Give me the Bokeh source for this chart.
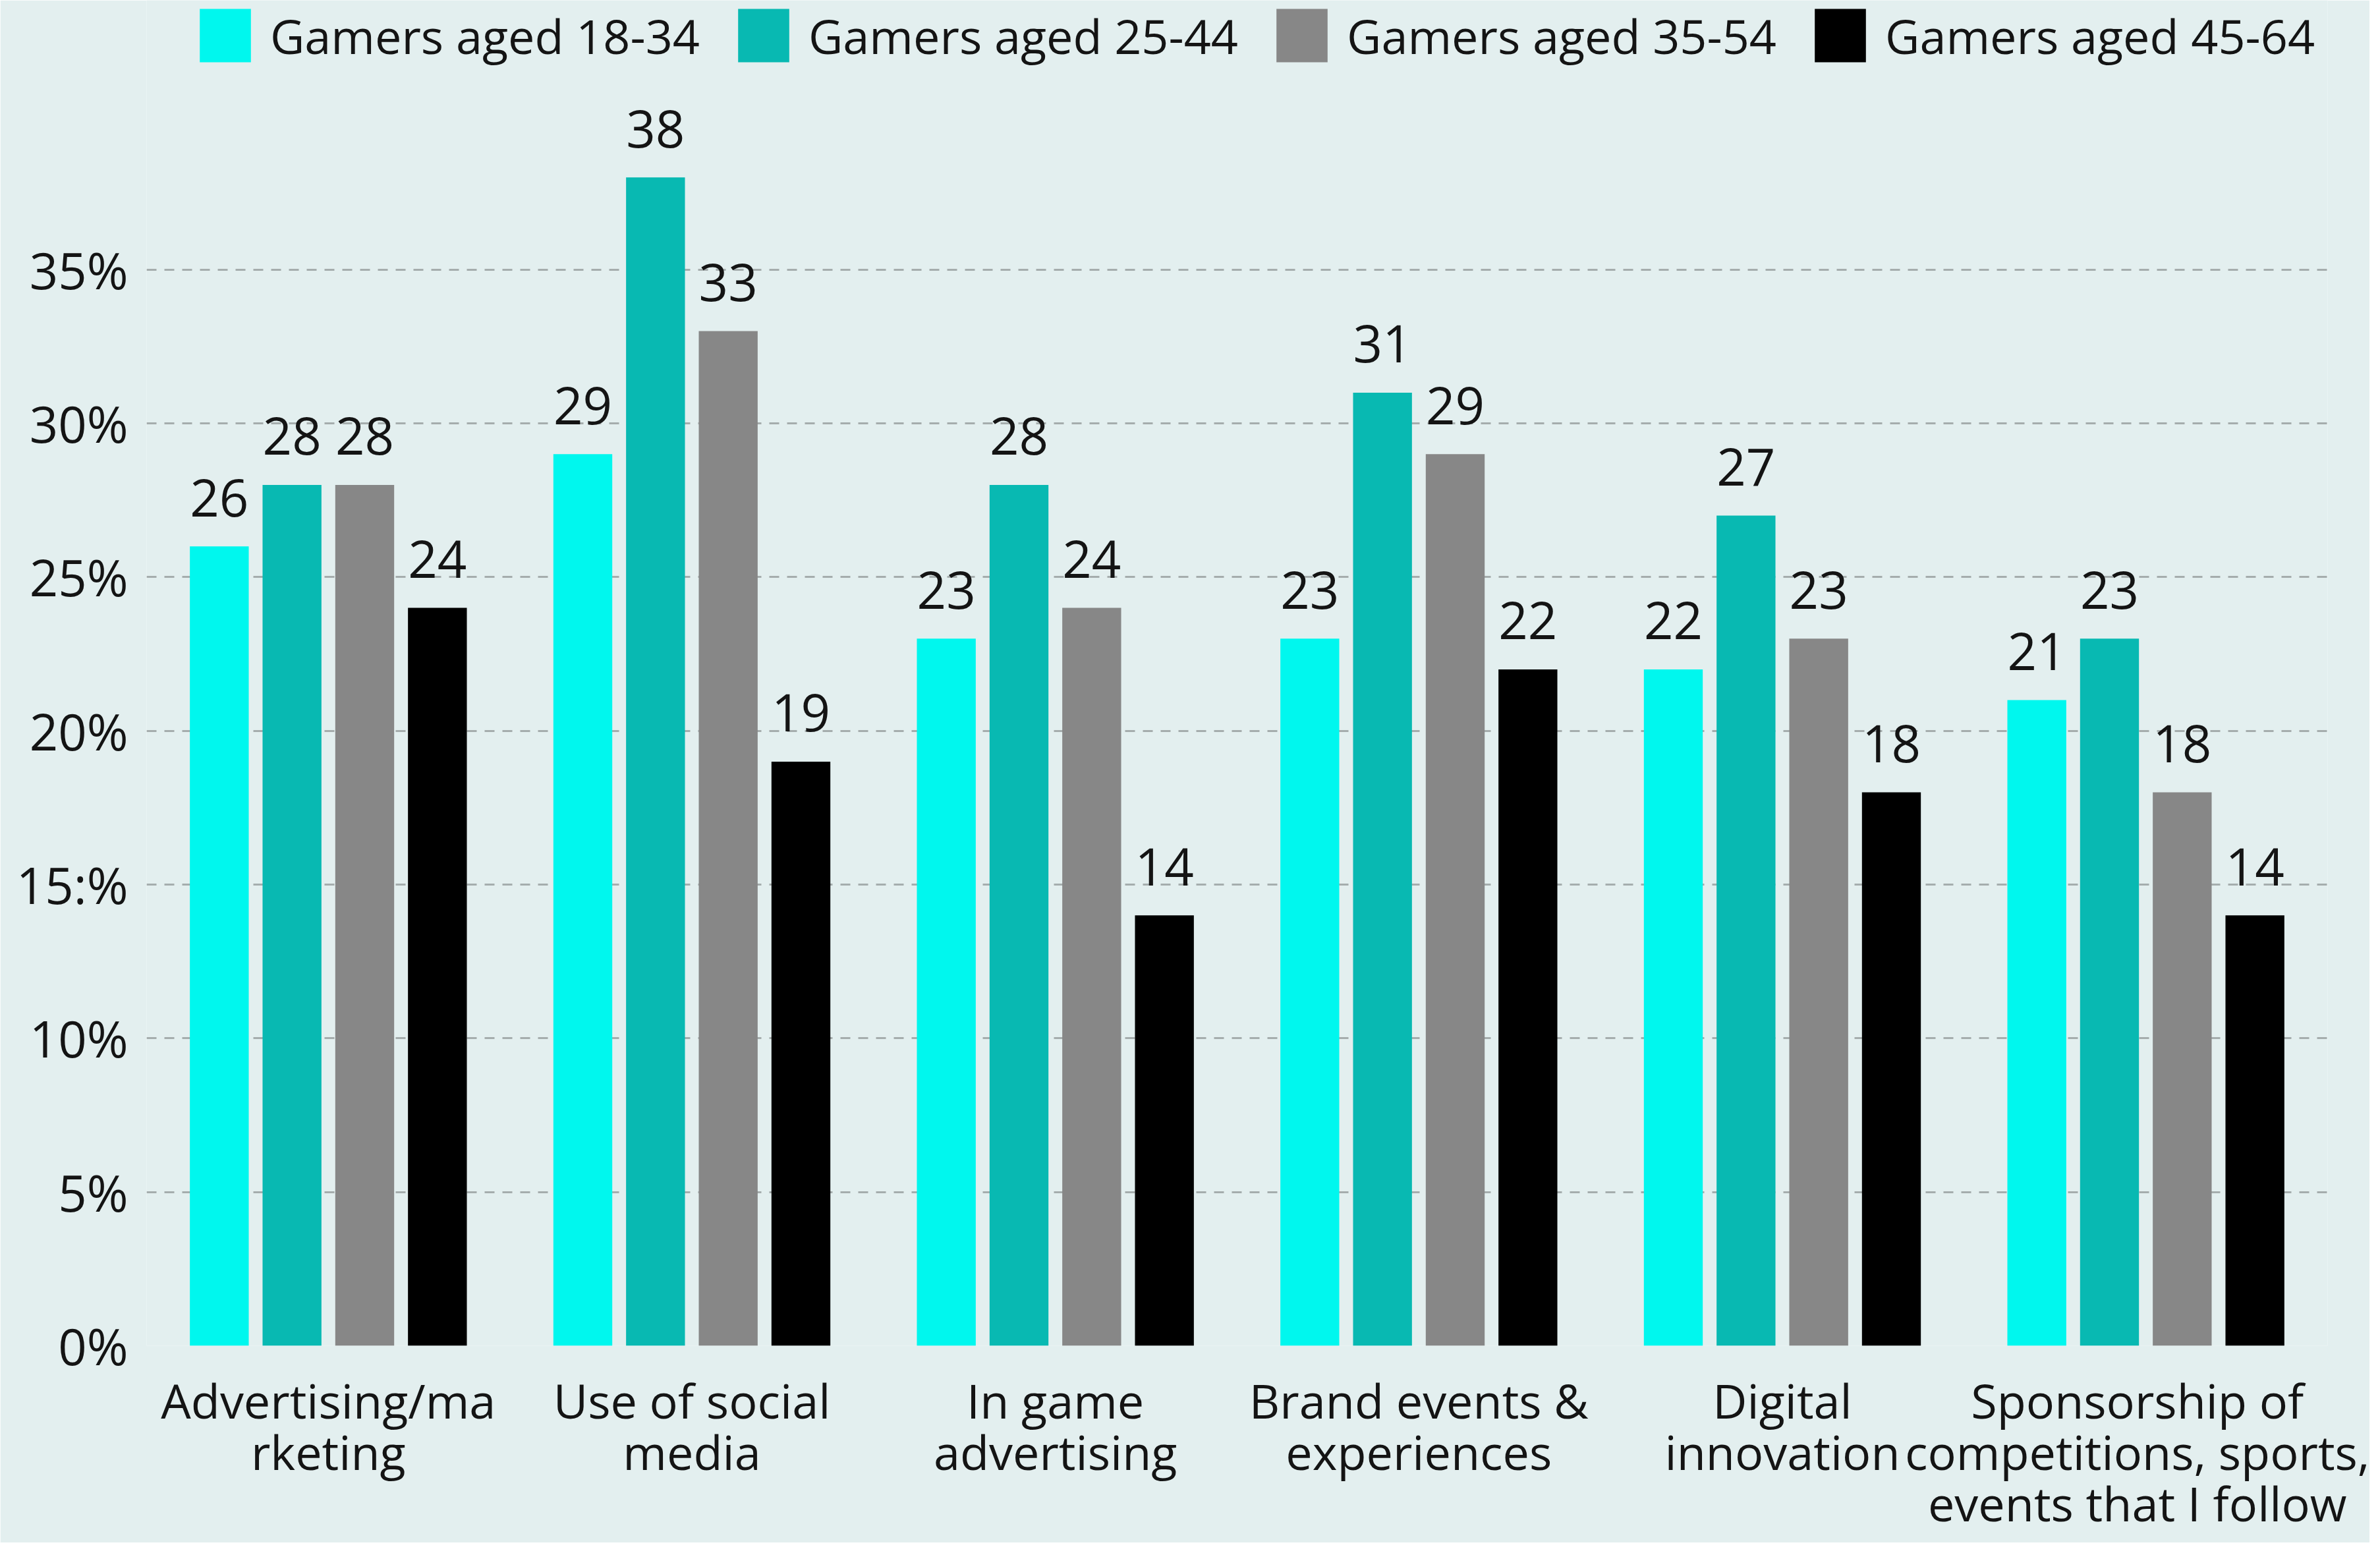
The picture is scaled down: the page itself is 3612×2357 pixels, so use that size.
from bokeh.plotting import figure
from bokeh.models import ColumnDataSource, FactorRange, Range1d, FixedTicker, Legend, LegendItem
from bokeh.transform import dodge
from bokeh.core.properties import value
from bokeh.embed import file_html
from bokeh.resources import INLINE

categories = ["Advertising/ma\nrketing", "Use of social\nmedia", "In game\nadvertising",
              "Brand events &\nexperiences", "Digital\ninnovation",
              "Sponsorship of\ncompetitions, sports,\nevents that I follow"]
series_names = ["Gamers aged 18-34", "Gamers aged 25-44", "Gamers aged 35-54", "Gamers aged 45-64"]
aged_18_34 = [26, 29, 23, 23, 22, 21]
aged_25_44 = [28, 38, 28, 31, 27, 23]
aged_35_54 = [28, 33, 24, 29, 23, 18]
aged_45_64 = [24, 19, 14, 22, 18, 14]
y_ticks = [0, 5, 10, 15, 20, 25, 30, 35]
y_tick_labels = ["0%", "5%", "10%", "15:%", "20%", "25%", "30%", "35%"]

colors = ["#00F7EE", "#08B9B2", "#878787", "#000000"]
offsets = [-0.3, -0.1, 0.1, 0.3]
series = [aged_18_34, aged_25_44, aged_35_54, aged_45_64]

FONT = "Open Sans"
TXT = "#141414"
BG = "#e3efef"

p = figure(x_range=FactorRange(*categories, range_padding=0),
           y_range=Range1d(0, 43.76),
           width=3596, height=2341, output_backend="svg", toolbar_location=None,
           min_border_left=222, min_border_right=64, min_border_top=0, min_border_bottom=299)
p.background_fill_color = BG
p.border_fill_color = BG
p.outline_line_color = None

items = []
for name, vals, col, off in zip(series_names, series, colors, offsets):
    src = ColumnDataSource(dict(cat=categories, val=vals, lab=[str(v) for v in vals]))
    r = p.vbar(x=dodge("cat", off, range=p.x_range), top="val", width=0.162, source=src,
               fill_color=col, line_color=None)
    p.text(x=dodge("cat", off, range=p.x_range), y="val", text="lab", source=src,
           text_align="center", text_baseline="alphabetic", y_offset=-74,
           text_font=value(FONT), text_font_size="78px", text_color=TXT)
    items.append(LegendItem(label=name, renderers=[r]))

legend = Legend(items=items, orientation="horizontal", location=(71, 1938),
                glyph_width=97, glyph_height=101, label_standoff=20, spacing=48,
                padding=0, margin=0, border_line_color=None, background_fill_alpha=0,
                label_text_font=FONT, label_text_font_size="72px", label_text_color=TXT)
p.add_layout(legend, "center")

# y axis
p.yaxis.ticker = FixedTicker(ticks=y_ticks)
p.yaxis.major_label_overrides = {t: l for t, l in zip(y_ticks, y_tick_labels)}
p.yaxis.axis_line_color = None
p.yaxis.major_tick_line_color = None
p.yaxis.minor_tick_line_color = None
p.yaxis.major_tick_out = 0
p.yaxis.major_tick_in = 0
p.yaxis.major_label_standoff = 28
p.yaxis.major_label_text_font = FONT
p.yaxis.major_label_text_font_size = "76px"
p.yaxis.major_label_text_color = TXT

# x axis
p.xaxis.axis_line_color = None
p.xaxis.major_tick_line_color = None
p.xaxis.major_tick_out = 0
p.xaxis.major_tick_in = 0
p.xaxis.major_label_standoff = 33
p.xaxis.major_label_text_font = FONT
p.xaxis.major_label_text_font_size = "72px"
p.xaxis.major_label_text_color = TXT
p.xaxis.major_label_text_line_height = 0.8

p.xgrid.grid_line_color = None
p.ygrid.grid_line_color = "#a5adad"
p.ygrid.grid_line_width = 3
p.ygrid.grid_line_dash = "15 12"

open("out.html", "w").write(file_html(p, INLINE))
